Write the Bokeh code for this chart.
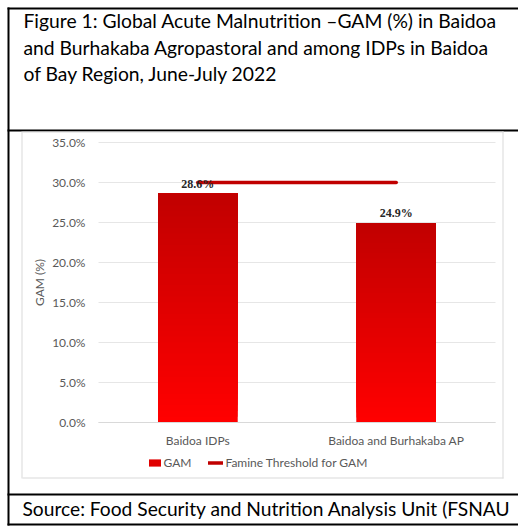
from bokeh.plotting import figure
from bokeh.models import (Range1d, NumeralTickFormatter, FixedTicker, Legend, LegendItem,
                          ColumnDataSource, LabelSet, Label)
from bokeh.embed import file_html
from bokeh.resources import INLINE

# ---------------- data ----------------
title_lines = [
    "Figure 1: Global Acute Malnutrition \u2013GAM (%) in Baidoa",
    "and Burhakaba Agropastoral and among IDPs in Baidoa",
    "of Bay Region, June-July 2022",
]
source_text = "Source: Food Security and Nutrition Analysis Unit (FSNAU"
categories = ["Baidoa IDPs", "Baidoa and Burhakaba AP"]
gam = [0.286, 0.249]
gam_labels = ["28.6%", "24.9%"]
famine_threshold = [0.30, 0.30]
y_ticks = [0.0, 0.05, 0.10, 0.15, 0.20, 0.25, 0.30, 0.35]
y_axis_label = "GAM (%)"
legend_labels = ["GAM", "Famine Threshold for GAM"]

# ---------------- layout (page pixels) ----------------
PW, PH = 518, 532
FL, FR, FT, FB = 98, 495, 142, 422      # plot area
Y_MAX = 0.35
XU = (FR - FL) / len(categories)        # px per category
YU = (FB - FT) / Y_MAX                  # px per unit of y
FONT = "Lato"
GREY_TXT = "#595959"
BOX_GREY = "#D9D9D9"
GRID_GREY = "#E6E6E6"


def X(px):
    return (px - FL) / XU


def Y(py):
    return (FB - py) / YU


x_pos = [i + 0.5 for i in range(len(categories))]

p = figure(width=PW, height=PH, x_range=Range1d(X(0), X(PW)), y_range=Range1d(Y(PH), Y(0)),
           output_backend="svg", toolbar_location=None, min_border=0)
p.outline_line_color = None
p.background_fill_color = "white"
p.border_fill_color = "white"
p.xgrid.grid_line_color = None
p.ygrid.grid_line_color = None

# ---- y axis (drawn inside the canvas at the plot-area edge) ----
ya = p.yaxis[0]
ya.fixed_location = 0
ya.bounds = (0, Y_MAX)
ya.level = "underlay"
ya.ticker = FixedTicker(ticks=y_ticks)
ya.formatter = NumeralTickFormatter(format="0.0%")
ya.axis_line_color = None
ya.major_tick_out = 0
ya.major_tick_in = FR - FL
ya.major_tick_line_color = GRID_GREY
ya.minor_tick_line_color = None
ya.major_label_standoff = 13
ya.major_label_text_font = FONT
ya.major_label_text_font_size = "12px"
ya.major_label_text_color = GREY_TXT
ya.axis_label = y_axis_label
ya.axis_label_text_font = FONT
ya.axis_label_text_font_size = "12px"
ya.axis_label_text_font_style = "normal"
ya.axis_label_text_color = GREY_TXT
ya.axis_label_standoff = 2

# ---- x axis ----
xa = p.xaxis[0]
xa.fixed_location = 0
xa.bounds = (0, len(categories))
xa.ticker = FixedTicker(ticks=x_pos)
xa.major_label_overrides = {x: c for x, c in zip(x_pos, categories)}
xa.axis_line_color = BOX_GREY
xa.major_tick_line_color = None
xa.minor_tick_line_color = None
xa.major_tick_out = 0
xa.major_tick_in = 0
xa.major_label_standoff = 10
xa.major_label_text_font = FONT
xa.major_label_text_font_size = "12px"
xa.major_label_text_color = GREY_TXT

# ---- frame decorations: black table lines and grey chart box ----
black = [(7, PW, 7, 9), (7, 9, 7, 525), (7, PW, 129, 131), (7, PW, 493, 495), (7, PW, 523, 525)]
grey = [(22, 503, 131, 132), (22, 503, 477, 478), (21, 22, 131, 478), (502, 503, 131, 478)]
for rects, col in ((black, "black"), (grey, BOX_GREY)):
    p.quad(left=[X(r[0]) for r in rects], right=[X(r[1]) for r in rects],
           top=[Y(r[2]) for r in rects], bottom=[Y(r[3]) for r in rects],
           fill_color=col, line_color=None, level="underlay")

# ---- bars ----
bar_r = p.vbar(x=x_pos, top=gam, width=0.4, fill_color="#E00000", line_color=None)

n = 40
dark = (192, 0, 0)
bright = (255, 0, 0)
gx, gb, gt, gc = [], [], [], []
for xp, v in zip(x_pos, gam):
    for k in range(n):
        f = k / n
        col = tuple(int(round(b + (d - b) * f)) for b, d in zip(bright, dark))
        gx.append(xp)
        gb.append(v * f)
        gt.append(v)
        gc.append("#%02x%02x%02x" % col)
p.vbar(x="x", bottom="b", top="t", width=0.4, fill_color="c", line_color=None,
       source=ColumnDataSource(dict(x=gx, b=gb, t=gt, c=gc)))

# ---- famine threshold ----
line_r = p.line(x=x_pos, y=famine_threshold, line_color="#C00000", line_width=3.5,
                line_cap="round")

# ---- value labels ----
lab_src = ColumnDataSource(dict(x=x_pos, y=gam, t=gam_labels))
p.add_layout(LabelSet(x="x", y="y", text="t", source=lab_src, text_align="center",
                      text_baseline="middle", y_offset=10, text_font=FONT,
                      text_font_size="12px", text_font_style="bold", text_color="#262626",
                      level="overlay"))

# ---- legend ----
legend = Legend(items=[LegendItem(label=legend_labels[0], renderers=[bar_r]),
                       LegendItem(label=legend_labels[1], renderers=[line_r])],
                orientation="horizontal", location=(146.5, PH - 470),
                padding=0, margin=0, spacing=17, glyph_width=15, glyph_height=9,
                label_height=12, label_standoff=2, label_text_font=FONT,
                label_text_font_size="12px", label_text_color=GREY_TXT,
                border_line_color=None, background_fill_alpha=0)
p.add_layout(legend)

# ---- title and source ----
for txt, bl in zip(title_lines, [20, 46.7, 73.4]):
    p.add_layout(Label(x=23, y=PH - bl, x_units="screen", y_units="screen", text=txt,
                       text_font=FONT, text_font_size="19.3px", text_color="black",
                       text_baseline="alphabetic", text_align="left"))
p.add_layout(Label(x=22, y=PH - 508, x_units="screen", y_units="screen", text=source_text,
                   text_font=FONT, text_font_size="19.2px", text_color="black",
                   text_baseline="alphabetic", text_align="left"))

open("out.html", "w").write(file_html(p, INLINE))
